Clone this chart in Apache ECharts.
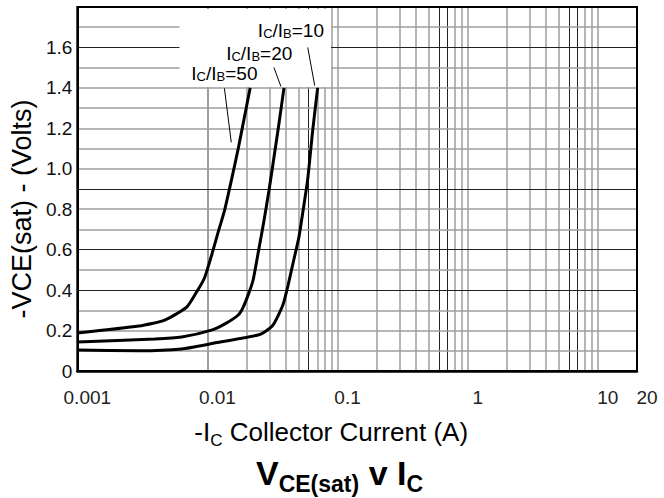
<!DOCTYPE html>
<html lang="en">
<head>
    <meta charset="UTF-8"/>
    <script src="https://cdn.jsdelivr.net/npm/echarts@6/dist/echarts.min.js"></script>
    <title>VCE(sat) v IC</title>
    <style>html, body { margin: 0; padding: 0; background: #fff; }</style>
</head>
<body>
<div id="main" style="width: 664px; height: 498px;"></div>
<script type="text/javascript">
    // curves: collector current (A) vs VCE(sat) (V)
    var ic50  = [0.001, 0.00297, 0.0047, 0.00692, 0.00824, 0.00949, 0.01085, 0.01213, 0.01349, 0.01524, 0.01725, 0.01916, 0.0213];
    var vce50 = [0.188, 0.222, 0.252, 0.316, 0.39, 0.46, 0.58, 0.69, 0.79, 0.94, 1.10, 1.25, 1.40];

    var ic20  = [0.001, 0.00394, 0.00633, 0.01073, 0.01396, 0.01725, 0.01884, 0.02093, 0.02244, 0.02495, 0.02723, 0.02973, 0.03246, 0.03548, 0.03873];
    var vce20 = [0.143, 0.158, 0.168, 0.202, 0.237, 0.277, 0.316, 0.39, 0.45, 0.61, 0.746, 0.894, 1.057, 1.225, 1.40];

    var ic10  = [0.001, 0.00297, 0.00633, 0.0113, 0.02449, 0.02675, 0.0319, 0.038, 0.0415, 0.0461, 0.0504, 0.0545, 0.059, 0.0644, 0.0703];
    var vce10 = [0.104, 0.100, 0.109, 0.138, 0.178, 0.188, 0.227, 0.326, 0.42, 0.55, 0.66, 0.80, 0.95, 1.19, 1.40];

    var xLabels = ['0.001', '0.01', '0.1', '1', '10', '20'];

    // grid paper lines (the darker ones are darker in the scan too)
    var decades = [0.001, 0.01, 0.1, 1, 10];
    var mults = [1, 2, 3, 4, 5, 6, 7, 8, 9];
    var darkX = [0.006, 0.06, 0.6, 0.7, 6, 7];
    var yGrid = [0.1, 0.2, 0.3, 0.4, 0.5, 0.6, 0.7, 0.8, 0.9, 1.0, 1.1, 1.2, 1.3, 1.4, 1.5, 1.6, 1.7];
    var darkY = [0.4, 0.6, 0.9, 1.6];

    var FONT = 'Liberation Sans';

    function zip(xs, ys) {
        var out = [];
        for (var i = 0; i < xs.length; i++) out.push([xs[i], ys[i]]);
        return out;
    }
    function near(list, v) {
        for (var i = 0; i < list.length; i++) {
            if (Math.abs(list[i] - v) < 1e-9 * Math.max(1, v) + 1e-12) return true;
        }
        return false;
    }

    var gridLines = [];
    decades.forEach(function (d) {
        mults.forEach(function (m) {
            var v = +(d * m).toPrecision(3);
            if (v <= 0.001 || v >= 20) return;
            var dark = near(darkX, v);
            gridLines.push({xAxis: v, lineStyle: {color: dark ? '#222' : '#9e9e9e', width: dark ? 1 : 1.5, type: 'solid'}});
        });
    });
    yGrid.forEach(function (v) {
        var dark = near(darkY, v);
        gridLines.push({yAxis: v, lineStyle: {color: dark ? '#222' : '#9e9e9e', width: dark ? 1 : 1.5, type: 'solid'}});
    });

    var small = {
        a: {fontSize: 19, lineHeight: 19, verticalAlign: 'bottom', color: '#000', fontFamily: FONT},
        b: {fontSize: 13, lineHeight: 13, verticalAlign: 'bottom', color: '#000', fontFamily: FONT}
    };

    function curve(name, xs, ys, labelAt, leader) {
        return {
            name: name,
            type: 'line',
            z: 3,
            data: zip(xs, ys),
            showSymbol: false,
            smooth: 0.2,
            lineStyle: {color: '#000', width: 3},
            silent: true,
            markPoint: {
                symbol: 'circle',
                symbolSize: 0,
                silent: true,
                label: {
                    show: true,
                    position: 'inside',
                    formatter: '{a|I}{b|C}{a|/I}{b|B}{a|=' + name + '}',
                    rich: small
                },
                data: [{coord: labelAt}]
            },
            markLine: {
                silent: true,
                symbol: ['none', 'none'],
                label: {show: false},
                lineStyle: {color: '#000', width: 1, type: 'solid'},
                data: [[{coord: leader[0]}, {coord: leader[1]}]]
            }
        };
    }

    var myChart = echarts.init(document.getElementById('main'), null, {renderer: 'svg'});

    option = {
        backgroundColor: '#fff',
        animation: false,
        textStyle: {fontFamily: FONT},
        title: {
            text: '{v|V}{s|CE(sat)}{v| v I}{s|C}',
            left: 256,
            top: 456,
            padding: 0,
            textStyle: {
                rich: {
                    v: {fontSize: 34, fontWeight: 'bold', color: '#000', lineHeight: 34, verticalAlign: 'bottom', fontFamily: FONT},
                    s: {fontSize: 23, fontWeight: 'bold', color: '#000', lineHeight: 23, verticalAlign: 'bottom', fontFamily: FONT, padding: [0, 0, -5, 0]}
                }
            }
        },
        grid: {
            left: 75, right: 27, top: 7, bottom: 127,
            show: true, z: 10,
            borderColor: '#000', borderWidth: 2,
            backgroundColor: 'transparent'
        },
        xAxis: {
            type: 'log',
            logBase: 10,
            min: 0.001,
            max: 20,
            z: 10,
            axisLine: {show: true, onZero: false, lineStyle: {color: '#000', width: 2.5}},
            axisTick: {show: false},
            splitLine: {show: false},
            axisLabel: {
                fontSize: 19,
                fontFamily: FONT,
                color: '#222',
                margin: 17,
                padding: [0, 0, 0, 20],
                showMinLabel: true,
                showMaxLabel: true,
                formatter: function (v) {
                    var s = String(+v.toPrecision(3));
                    return xLabels.indexOf(s) >= 0 ? s : '';
                }
            },
            name: '{m|-I}{s|C}{m| Collector Current (A)}',
            nameLocation: 'middle',
            nameGap: 46,
            nameTextStyle: {
                padding: [0, 52, 0, 0],
                rich: {
                    m: {fontSize: 26, color: '#000', lineHeight: 28, verticalAlign: 'bottom', fontFamily: FONT},
                    s: {fontSize: 17, color: '#000', lineHeight: 17, verticalAlign: 'bottom', fontFamily: FONT, padding: [0, 0, -4, 0]}
                }
            }
        },
        yAxis: {
            type: 'value',
            min: 0,
            max: 1.8,
            interval: 0.2,
            z: 10,
            axisLine: {show: true, lineStyle: {color: '#000', width: 2}},
            axisTick: {show: false},
            splitLine: {show: false},
            axisLabel: {
                fontSize: 19,
                fontFamily: FONT,
                color: '#111',
                margin: 5,
                showMaxLabel: false,
                formatter: function (v) { return v === 0 ? '0' : v.toFixed(1); }
            },
            // spacer token at the end pushes the centred name down a little
            name: '{t|-VCE(sat) - (Volts)}{sp|}',
            nameLocation: 'middle',
            nameGap: 40,
            nameTextStyle: {
                fontSize: 27,
                fontFamily: FONT,
                color: '#000',
                rich: {
                    t: {fontSize: 27, color: '#000', fontFamily: FONT},
                    sp: {width: 40, fontSize: 27}
                }
            }
        },
        series: [
            {
                name: 'grid',
                type: 'line',
                data: [],
                silent: true,
                markLine: {
                    z: 1,
                    silent: true,
                    animation: false,
                    symbol: ['none', 'none'],
                    label: {show: false},
                    data: gridLines
                }
            },
            {
                name: 'labelBox',
                type: 'line',
                data: [],
                silent: true,
                markArea: {
                    z: 2,
                    silent: true,
                    itemStyle: {color: '#fff'},
                    data: [[{xAxis: 0.0061, yAxis: 1.405}, {xAxis: 0.089, yAxis: 1.79}]]
                }
            },
            curve('50', ic50, vce50, [0.0135, 1.472], [[0.0135, 1.398], [0.01524, 1.131]]),
            curve('20', ic20, vce20, [0.025, 1.57], [[0.0324, 1.501], [0.0367, 1.407]]),
            curve('10', ic10, vce10, [0.0438, 1.684], [[0.059, 1.60], [0.0667, 1.412]])
        ]
    };

    myChart.setOption(option);
</script>
</body>
</html>
